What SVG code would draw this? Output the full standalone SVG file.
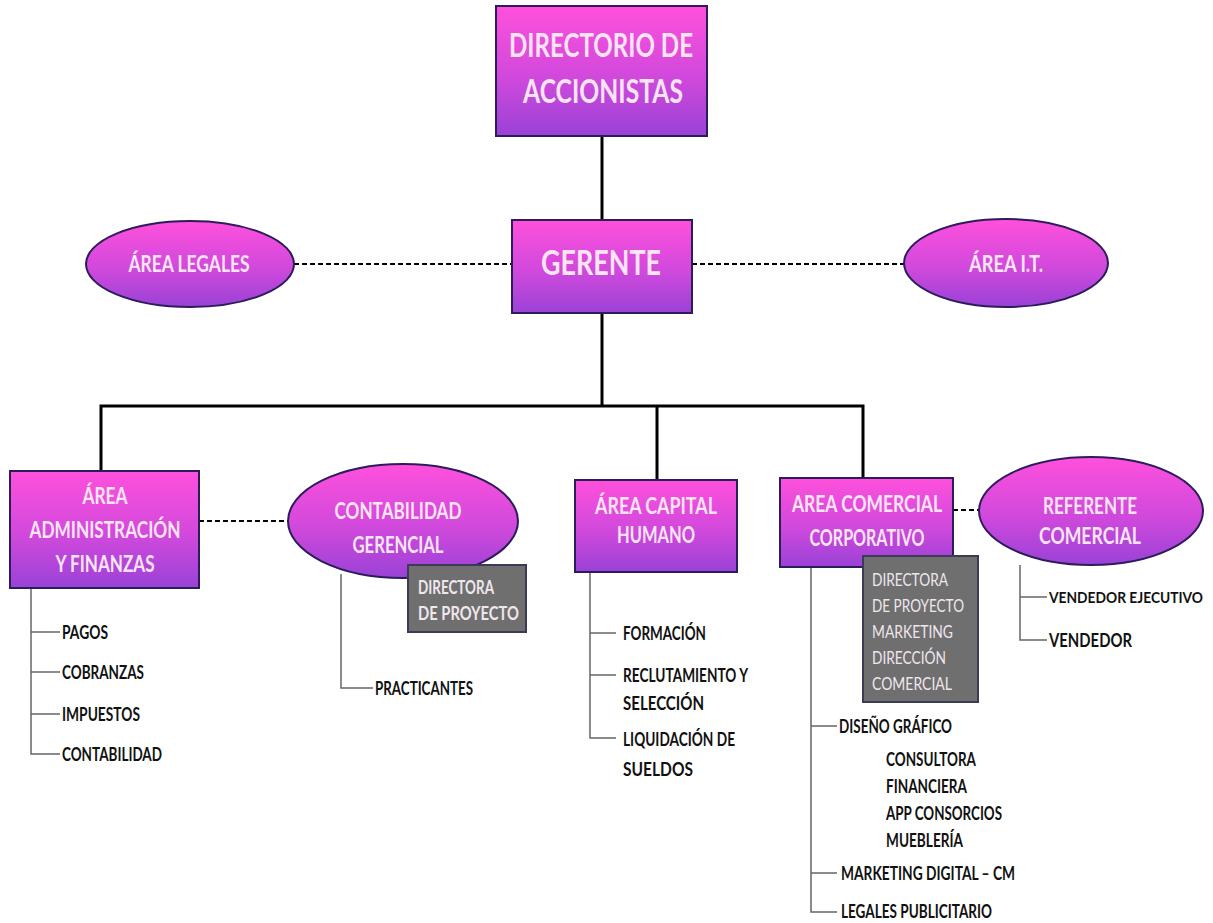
<svg xmlns="http://www.w3.org/2000/svg" width="1213" height="923" viewBox="0 0 1213 923">
<defs>
<linearGradient id="pg" x1="0" y1="0" x2="0" y2="1">
<stop offset="0" stop-color="#ff50dc"/>
<stop offset="0.55" stop-color="#d049dc"/>
<stop offset="1" stop-color="#9a42d6"/>
</linearGradient>
<style>
.node{fill:url(#pg);stroke:#2b1d5c;stroke-width:2}
.gbox{fill:#6f6f6f;stroke:#3b3b55;stroke-width:2}
.nt{font-family:Lato,"Liberation Sans",sans-serif;font-weight:700;fill:#fbe4f4;text-anchor:middle}
.gt{font-family:Lato,"Liberation Sans",sans-serif;fill:#efe6ee}
.lt{font-family:Lato,"Liberation Sans",sans-serif;font-weight:700;fill:#111;font-size:18px}
.main{stroke:#000;stroke-width:3;fill:none}
.dash{stroke:#000;stroke-width:2;stroke-dasharray:5 3;fill:none}
.sub{stroke:#666;stroke-width:1.5;fill:none}
</style>
</defs>
<rect width="1213" height="923" fill="#fff"/>
<g id="connectors">
<line class="main" x1="602" y1="136" x2="602" y2="220"/>
<line class="main" x1="602" y1="313" x2="602" y2="406"/>
<polyline class="main" points="101,471 101,406 863,406 863,478"/>
<line class="main" x1="657" y1="406" x2="657" y2="480"/>
<line class="dash" x1="294" y1="264" x2="512" y2="264"/>
<line class="dash" x1="692" y1="264" x2="904" y2="264"/>
<line class="dash" x1="199" y1="521" x2="288" y2="521"/>
<line class="dash" x1="953" y1="510" x2="980" y2="510"/>
<polyline class="sub" points="31,588 31,754 60,754"/>
<line class="sub" x1="31" y1="632" x2="60" y2="632"/>
<line class="sub" x1="31" y1="672" x2="60" y2="672"/>
<line class="sub" x1="31" y1="714" x2="60" y2="714"/>
<polyline class="sub" points="341,574 341,688 373,688"/>
<polyline class="sub" points="590,572 590,738 616,738"/>
<line class="sub" x1="590" y1="633" x2="616" y2="633"/>
<line class="sub" x1="590" y1="675" x2="616" y2="675"/>
<polyline class="sub" points="1020,565 1020,640 1047,640"/>
<line class="sub" x1="1020" y1="597" x2="1047" y2="597"/>
<polyline class="sub" points="811,567 811,912 837,912"/>
<line class="sub" x1="811" y1="726" x2="837" y2="726"/>
<line class="sub" x1="811" y1="873" x2="837" y2="873"/>
</g>
<g id="directorio">
<rect class="node" x="496" y="6" width="211" height="130"/>
<text class="nt" x="601" y="57" font-size="33" textLength="184" lengthAdjust="spacingAndGlyphs">DIRECTORIO DE</text>
<text class="nt" x="603" y="103" font-size="33" textLength="160" lengthAdjust="spacingAndGlyphs">ACCIONISTAS</text>
</g>
<g id="gerente">
<rect class="node" x="512" y="220" width="180" height="93"/>
<text class="nt" x="601" y="275" font-size="35" textLength="120" lengthAdjust="spacingAndGlyphs">GERENTE</text>
</g>
<g id="legales">
<ellipse class="node" cx="190" cy="264" rx="104" ry="43"/>
<text class="nt" x="189" y="272" font-size="22" textLength="121" lengthAdjust="spacingAndGlyphs">ÁREA LEGALES</text>
</g>
<g id="it">
<ellipse class="node" cx="1006" cy="263" rx="102" ry="44"/>
<text class="nt" x="1006" y="272" font-size="22" textLength="74" lengthAdjust="spacingAndGlyphs">ÁREA I.T.</text>
</g>
<g id="admin">
<rect class="node" x="10" y="471" width="189" height="117"/>
<text class="nt" x="105" y="504" font-size="22" textLength="45" lengthAdjust="spacingAndGlyphs">ÁREA</text>
<text class="nt" x="105" y="538" font-size="22" textLength="151" lengthAdjust="spacingAndGlyphs">ADMINISTRACIÓN</text>
<text class="nt" x="105" y="572" font-size="22" textLength="99" lengthAdjust="spacingAndGlyphs">Y FINANZAS</text>
</g>
<g id="admin-items">
<text class="lt" x="62" y="639" textLength="46" lengthAdjust="spacingAndGlyphs">PAGOS</text>
<text class="lt" x="62" y="679" textLength="82" lengthAdjust="spacingAndGlyphs">COBRANZAS</text>
<text class="lt" x="62" y="721" textLength="78" lengthAdjust="spacingAndGlyphs">IMPUESTOS</text>
<text class="lt" x="62" y="761" textLength="100" lengthAdjust="spacingAndGlyphs">CONTABILIDAD</text>
</g>
<g id="contabilidad">
<ellipse class="node" cx="403" cy="521" rx="115" ry="57"/>
<text class="nt" x="398" y="519" font-size="22" textLength="127" lengthAdjust="spacingAndGlyphs">CONTABILIDAD</text>
<text class="nt" x="398" y="553" font-size="22" textLength="91" lengthAdjust="spacingAndGlyphs">GERENCIAL</text>
</g>
<g id="directora1">
<rect class="gbox" x="408" y="565" width="118" height="67"/>
<text class="gt" x="418" y="594" font-size="18" font-weight="700" textLength="76" lengthAdjust="spacingAndGlyphs">DIRECTORA</text>
<text class="gt" x="418" y="620" font-size="18" font-weight="700" textLength="101" lengthAdjust="spacingAndGlyphs">DE PROYECTO</text>
</g>
<g id="practicantes">
<text class="lt" x="375" y="695" textLength="98" lengthAdjust="spacingAndGlyphs">PRACTICANTES</text>
</g>
<g id="capital">
<rect class="node" x="575" y="480" width="162" height="92"/>
<text class="nt" x="656" y="514" font-size="22" textLength="122" lengthAdjust="spacingAndGlyphs">ÁREA CAPITAL</text>
<text class="nt" x="656" y="543" font-size="22" textLength="78" lengthAdjust="spacingAndGlyphs">HUMANO</text>
</g>
<g id="capital-items">
<text class="lt" x="623" y="640" textLength="83" lengthAdjust="spacingAndGlyphs">FORMACIÓN</text>
<text class="lt" x="623" y="682" textLength="125" lengthAdjust="spacingAndGlyphs">RECLUTAMIENTO Y</text>
<text class="lt" x="623" y="710" textLength="81" lengthAdjust="spacingAndGlyphs">SELECCIÓN</text>
<text class="lt" x="623" y="746" textLength="112" lengthAdjust="spacingAndGlyphs">LIQUIDACIÓN DE</text>
<text class="lt" x="623" y="776" textLength="70" lengthAdjust="spacingAndGlyphs">SUELDOS</text>
</g>
<g id="comercial">
<rect class="node" x="780" y="478" width="173" height="89"/>
<text class="nt" x="867" y="512" font-size="22" textLength="150" lengthAdjust="spacingAndGlyphs">AREA COMERCIAL</text>
<text class="nt" x="867" y="546" font-size="22" textLength="115" lengthAdjust="spacingAndGlyphs">CORPORATIVO</text>
</g>
<g id="directora2">
<rect class="gbox" x="863" y="556" width="115" height="146"/>
<text class="gt" x="872" y="586" font-size="18" textLength="76" lengthAdjust="spacingAndGlyphs">DIRECTORA</text>
<text class="gt" x="872" y="612" font-size="18" textLength="92" lengthAdjust="spacingAndGlyphs">DE PROYECTO</text>
<text class="gt" x="872" y="638" font-size="18" textLength="81" lengthAdjust="spacingAndGlyphs">MARKETING</text>
<text class="gt" x="872" y="664" font-size="18" textLength="74" lengthAdjust="spacingAndGlyphs">DIRECCIÓN</text>
<text class="gt" x="872" y="690" font-size="18" textLength="80" lengthAdjust="spacingAndGlyphs">COMERCIAL</text>
</g>
<g id="referente">
<ellipse class="node" cx="1091" cy="511" rx="112" ry="54"/>
<text class="nt" x="1090" y="514" font-size="22" textLength="94" lengthAdjust="spacingAndGlyphs">REFERENTE</text>
<text class="nt" x="1090" y="544" font-size="22" textLength="102" lengthAdjust="spacingAndGlyphs">COMERCIAL</text>
</g>
<g id="referente-items">
<text class="lt" x="1049" y="603" style="font-size:14.5px" textLength="154" lengthAdjust="spacingAndGlyphs">VENDEDOR EJECUTIVO</text>
<text class="lt" x="1049" y="647" textLength="83" lengthAdjust="spacingAndGlyphs">VENDEDOR</text>
</g>
<g id="comercial-items">
<text class="lt" x="839" y="733" textLength="113" lengthAdjust="spacingAndGlyphs">DISEÑO GRÁFICO</text>
<text class="lt" x="886" y="766" textLength="90" lengthAdjust="spacingAndGlyphs">CONSULTORA</text>
<text class="lt" x="886" y="793" textLength="81" lengthAdjust="spacingAndGlyphs">FINANCIERA</text>
<text class="lt" x="886" y="820" textLength="116" lengthAdjust="spacingAndGlyphs">APP CONSORCIOS</text>
<text class="lt" x="886" y="847" textLength="77" lengthAdjust="spacingAndGlyphs">MUEBLERÍA</text>
<text class="lt" x="841" y="880" textLength="174" lengthAdjust="spacingAndGlyphs">MARKETING DIGITAL – CM</text>
<text class="lt" x="841" y="918" textLength="151" lengthAdjust="spacingAndGlyphs">LEGALES PUBLICITARIO</text>
</g>
</svg>
